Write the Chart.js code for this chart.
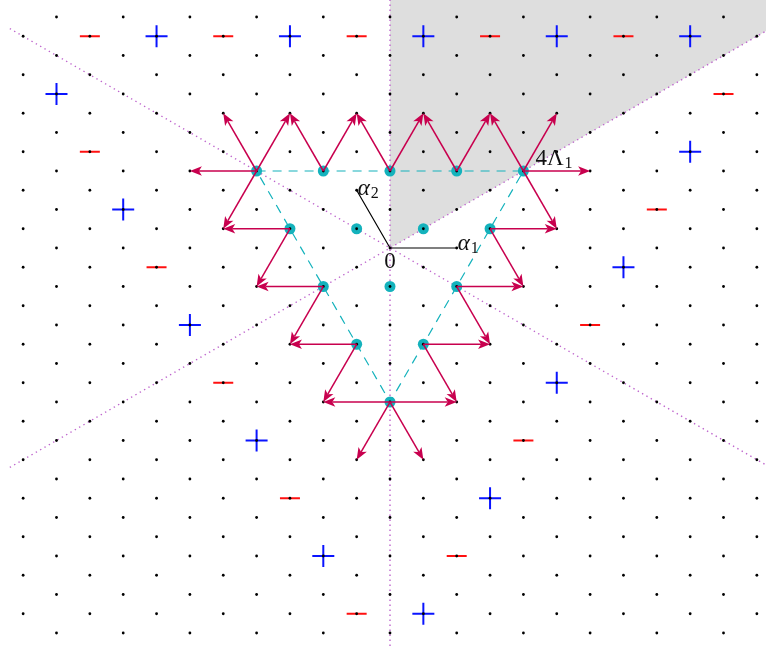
<!DOCTYPE html>
<html>
<head>
<meta charset="utf-8">
<script src="https://cdn.jsdelivr.net/npm/chart.js@4.4.1/dist/chart.umd.min.js"></script>
<style>
  html, body { margin: 0; padding: 0; background: #fff; }
  canvas { display: block; }
</style>
</head>
<body>
<canvas id="weights" width="766" height="646"></canvas>
<script>
// A2 weight diagram, coordinates: x in half-root units, y in units of the row spacing

// weights of the representation (cyan)
const weightX = [-4, -2, 0, 2, 4, -3, -1, 1, 3, -2, 0, 2, -1, 1, 0];
const weightY = [4, 4, 4, 4, 4, 1, 1, 1, 1, -2, -2, -2, -5, -5, -8];

// signs
const plusX = [-7, -3, 1, 5, 9, -10, 9, -8, 7, -6, 5, -4, 3, -2, 1];
const plusY = [11, 11, 11, 11, 11, 8, 5, 2, -1, -4, -7, -10, -13, -16, -19];
const minusX = [-9, -5, -1, 3, 7, 10, -9, 8, -7, 6, -5, 4, -3, 2, -1];
const minusY = [11, 11, 11, 11, 11, 8, 5, 2, -1, -4, -7, -10, -13, -16, -19];

// arrows: [fromX, fromY, toX, toY]
const arrows = [
  [-4, 4, -6, 4], [-4, 4, -5, 7], [-4, 4, -3, 7], [-4, 4, -5, 1],
  [-2, 4, -3, 7], [-2, 4, -1, 7],
  [0, 4, -1, 7], [0, 4, 1, 7],
  [2, 4, 1, 7], [2, 4, 3, 7],
  [4, 4, 3, 7], [4, 4, 5, 7], [4, 4, 6, 4], [4, 4, 5, 1],
  [-3, 1, -5, 1], [-3, 1, -4, -2],
  [3, 1, 5, 1], [3, 1, 4, -2],
  [-2, -2, -4, -2], [-2, -2, -3, -5],
  [2, -2, 4, -2], [2, -2, 3, -5],
  [-1, -5, -3, -5], [-1, -5, -2, -8],
  [1, -5, 3, -5], [1, -5, 2, -8],
  [0, -8, -2, -8], [0, -8, 2, -8], [0, -8, -1, -11], [0, -8, 1, -11],
];

// triangle hull of the weights
const hullX = [-4, 4, 0, -4];
const hullY = [4, 4, -8, 4];

// simple roots
const alpha1 = [2, 0];
const alpha2 = [-1, 3];

const X_MIN = -11.694, X_MAX = 11.274;
const Y_MIN = -20.675, Y_MAX = 12.883;

const ARROW = '#c8004e';
const CYAN = '#14b2bc';
const WALL = 'rgb(190, 100, 205)';

// lattice points (every point with x+y even)
const lattice = [];
for (let i = -11; i <= 11; i++) {
  for (let j = -20; j <= 12; j++) {
    if ((i + j) % 2 === 0) lattice.push({x: i, y: j});
  }
}

const pts = (xs, ys) => xs.map((v, i) => ({x: v, y: ys[i]}));

const wall = (data) => ({
  data: data,
  showLine: true,
  borderColor: WALL,
  borderWidth: 1.4,
  borderDash: [1.4, 3.6],
  pointRadius: 0,
  order: 8,
});

const overlay = {
  id: 'overlay',
  afterDatasetsDraw(chart) {
    const ctx = chart.ctx;
    const sx = chart.scales.x, sy = chart.scales.y;
    const px = v => sx.getPixelForValue(v);
    const py = v => sy.getPixelForValue(v);

    ctx.save();
    // arrows
    ctx.strokeStyle = ARROW;
    ctx.fillStyle = ARROW;
    ctx.lineWidth = 1.5;
    arrows.forEach(a => {
      const x0 = px(a[0]), y0 = py(a[1]), x1 = px(a[2]), y1 = py(a[3]);
      const len = Math.hypot(x1 - x0, y1 - y0);
      const ux = (x1 - x0) / len, uy = (y1 - y0) / len;
      const L = 12, W = 4.8, N = 9;
      ctx.beginPath();
      ctx.moveTo(x0, y0);
      ctx.lineTo(x1 - ux * N, y1 - uy * N);
      ctx.stroke();
      ctx.beginPath();
      ctx.moveTo(x1, y1);
      ctx.lineTo(x1 - ux * L - uy * W, y1 - uy * L + ux * W);
      ctx.lineTo(x1 - ux * N, y1 - uy * N);
      ctx.lineTo(x1 - ux * L + uy * W, y1 - uy * L - ux * W);
      ctx.closePath();
      ctx.fill();
    });

    // labels
    ctx.fillStyle = '#111';
    ctx.textBaseline = 'alphabetic';
    const label = (main, sub, x, y, dx, dy, italic) => {
      ctx.font = (italic ? 'italic ' : '') + '23px "Liberation Serif"';
      ctx.textAlign = 'left';
      const bx = px(x) + dx, by = py(y) + dy;
      ctx.fillText(main, bx, by);
      const w = ctx.measureText(main).width;
      if (sub) {
        ctx.font = '16px "Liberation Serif"';
        ctx.fillText(sub, bx + w + 1, by + 3);
      }
    };
    ctx.font = '23px "Liberation Serif"';
    ctx.textAlign = 'center';
    ctx.fillText('0', px(0), py(0) + 20);
    label('\u03b1', '1', alpha1[0], alpha1[1], 1, 2, true);
    label('\u03b1', '2', alpha2[0], alpha2[1], 1, 5, true);
    label('4\u039b', '1', 4, 4, 12, -6, false);
    ctx.restore();
  }
};

new Chart(document.getElementById('weights'), {
  type: 'scatter',
  data: {
    datasets: [
      {
        // lattice
        data: lattice,
        pointRadius: 1.4,
        pointBackgroundColor: '#000',
        pointBorderWidth: 0,
        order: 1,
      },
      {
        // plus signs
        data: pts(plusX, plusY),
        pointStyle: 'cross',
        pointRadius: 11,
        pointBorderColor: '#0a14ff',
        pointBorderWidth: 2,
        order: 2,
      },
      {
        // minus signs
        data: pts(minusX, minusY),
        pointStyle: 'line',
        pointRadius: 10,
        pointBorderColor: '#ff1010',
        pointBorderWidth: 2,
        order: 2,
      },
      {
        // weights
        data: pts(weightX, weightY),
        pointRadius: 5.5,
        pointBackgroundColor: CYAN,
        pointBorderWidth: 0,
        order: 3,
      },
      {
        // hull of the weights
        data: pts(hullX, hullY),
        showLine: true,
        borderColor: CYAN,
        borderWidth: 1.2,
        borderDash: [9, 7],
        pointRadius: 0,
        order: 4,
      },
      {
        // roots
        data: [{x: alpha1[0], y: alpha1[1]}, {x: 0, y: 0}, {x: alpha2[0], y: alpha2[1]}],
        showLine: true,
        borderColor: '#000',
        borderWidth: 1.2,
        pointRadius: 0,
        order: 4,
      },
      wall([{x: 0, y: Y_MIN}, {x: 0, y: Y_MAX}]),
      wall([{x: -11.4, y: -11.4}, {x: 12, y: 12}]),
      wall([{x: -11.4, y: 11.4}, {x: 12, y: -12}]),
      {
        // dominant chamber
        type: 'line',
        data: [{x: 0, y: 0}, {x: 12, y: 12}],
        borderWidth: 0,
        borderColor: 'rgba(0,0,0,0)',
        backgroundColor: '#dedede',
        fill: 'end',
        pointRadius: 0,
        order: 10,
      },
    ],
  },
  options: {
    responsive: false,
    animation: false,
    devicePixelRatio: 1,
    layout: { padding: 0, autoPadding: false },
    plugins: {
      legend: { display: false },
      tooltip: { enabled: false },
    },
    scales: {
      x: { type: 'linear', min: X_MIN, max: X_MAX, display: false },
      y: { type: 'linear', min: Y_MIN, max: Y_MAX, display: false },
    },
  },
  plugins: [overlay],
});
</script>
</body>
</html>
